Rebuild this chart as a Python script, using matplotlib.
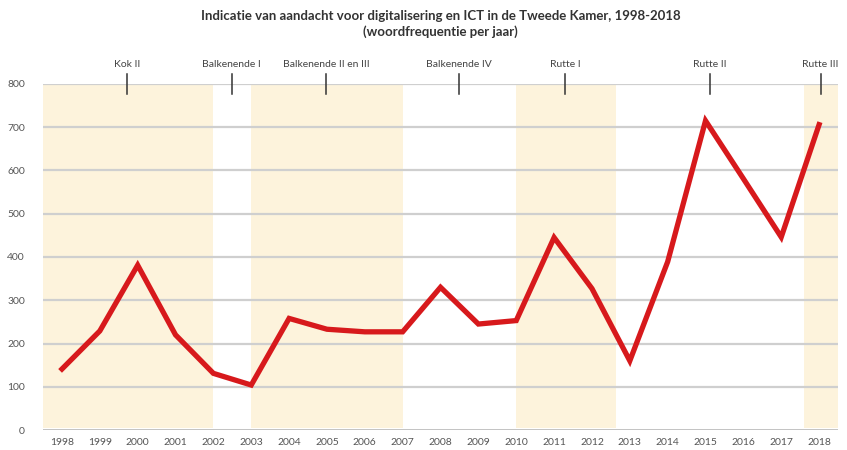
import matplotlib
matplotlib.use("Agg")
import matplotlib.pyplot as plt

plt.rcParams['font.family'] = ['Lato', 'DejaVu Sans']

years = list(range(1998, 2019))
values = [141, 229, 381, 220, 131, 104, 258, 233, 227, 227, 330, 245, 253,
          445, 327, 160, 389, 715, 581, 446, 706]

# shaded cabinet periods (start, end in years)
bands = [(1997.5, 2002.0), (2003.0, 2007.0), (2010.0, 2012.63), (2017.6, 2018.5)]

cabinets = ["Kok II", "Balkenende I", "Balkenende II en III", "Balkenende IV",
            "Rutte I", "Rutte II", "Rutte III"]
cabinet_pos = [1999.73, 2002.48, 2004.97, 2008.48, 2011.30, 2015.12, 2018.04]

yticks = [0, 100, 200, 300, 400, 500, 600, 700, 800]

title = ("Indicatie van aandacht voor digitalisering en ICT in de Tweede Kamer, 1998-2018\n"
         "(woordfrequentie per jaar)")

fig = plt.figure(figsize=(8.47, 4.5), dpi=100)
ax = fig.add_axes([0.0508, 0.0444, 0.9386, 0.769])
ax.set_xlim(1997.5, 2018.5)
ax.set_ylim(0, 800)

for s, e in bands:
    ax.axvspan(s, e, ymin=0.005, ymax=1.0, color='#fdf3dc', lw=0, zorder=0)

for yv in yticks:
    ax.axhline(yv, color='#bdbdbd' if yv == 0 else '#cfcfcf', lw=2.0 if yv == 0 else 1.6, zorder=1)

ax.plot(years, values, color='#d7191c', lw=3.8, solid_joinstyle='miter', zorder=3)

for name, x in zip(cabinets, cabinet_pos):
    ax.plot([x, x], [777, 823], color='#333333', lw=1.1, clip_on=False, zorder=4)
    ax.text(x, 845, name, ha='center', va='center', fontsize=7.5, color='#444444')

for sp in ax.spines.values():
    sp.set_visible(False)

ax.set_yticks(yticks)
ax.set_yticklabels([str(v) for v in yticks], fontsize=7.5, color='#555555')
ax.set_xticks(years)
ax.set_xticklabels([str(y) for y in years], fontsize=7.5, color='#555555')
ax.tick_params(axis='both', length=0)
ax.tick_params(axis='y', pad=13)
ax.tick_params(axis='x', pad=6)

fig.text(0.52, 0.978, title, ha='center', va='top', fontsize=9.5,
         fontweight='bold', color='#333333', linespacing=1.35)

fig.savefig('out.png', dpi=100)
